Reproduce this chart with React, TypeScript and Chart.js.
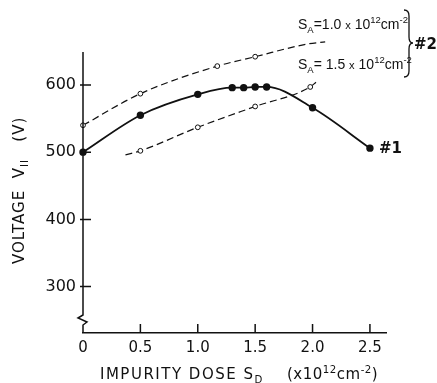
import React, { useEffect, useRef } from "react";
import { Chart, registerables } from "chart.js";

Chart.register(...registerables);

// ---- data ----
const xTicks = [0, 0.5, 1.0, 1.5, 2.0, 2.5];
const yTicks = [300, 400, 500, 600];

const doseN1 = [0, 0.5, 1.0, 1.3, 1.4, 1.5, 1.6, 2.0, 2.5];
const voltN1 = [500, 555, 586, 596, 596, 597, 597, 566, 506];

const doseSA10 = [0, 0.5, 1.17, 1.5, 1.96, 2.11];
const voltSA10 = [540, 587, 628, 642, 661, 664];
const markSA10 = [true, true, true, true, true, false];

const doseSA15 = [0.37, 0.5, 1.0, 1.5, 1.98, 2.03];
const voltSA15 = [496, 502, 537, 568, 597, 604];
const markSA15 = [false, true, true, true, true, false];

type Seg = [string, "n" | "sub" | "sup" | "sm"];

const labelSA10: Seg[] = [["S", "n"], ["A", "sub"], ["=1.0 ", "n"], ["x", "sm"], [" 10", "n"], ["12", "sup"], ["cm", "n"], ["-2", "sup"]];
const labelSA15: Seg[] = [["S", "n"], ["A", "sub"], ["= 1.5 ", "n"], ["x", "sm"], [" 10", "n"], ["12", "sup"], ["cm", "n"], ["-2", "sup"]];
const xTitleA: Seg[] = [["IMPURITY DOSE S", "n"], ["D", "sub"]];
const xTitleB: Seg[] = [["(x10", "n"], ["12", "sup"], ["cm", "n"], ["-2", "sup"], [")", "n"]];
const yTitle: Seg[] = [["VOLTAGE  V", "n"], ["II", "sub"], ["   (V)", "n"]];
const group1 = "#1";
const group2 = "#2";

const INK = "#111";
const FAM = "'DejaVu Sans', 'Liberation Sans', sans-serif";
const FAM2 = "'Liberation Sans', 'DejaVu Sans', sans-serif";

function drawRich(ctx: CanvasRenderingContext2D, x: number, y: number, segs: Seg[], size: number, spacing = 0, weight = "normal", fam = FAM) {
  let cx = x;
  ctx.textBaseline = "alphabetic";
  ctx.textAlign = "left";
  for (const [t, k] of segs) {
    const s = k === "n" ? size : k === "sm" ? size * 0.8 : size * 0.68;
    const dy = k === "sub" ? size * 0.28 : k === "sup" ? -size * 0.42 : 0;
    ctx.font = `${weight} ${s}px ${fam}`;
    (ctx as any).letterSpacing = `${spacing}px`;
    ctx.fillText(t, cx, y + dy);
    cx += ctx.measureText(t).width;
  }
  (ctx as any).letterSpacing = "0px";
  return cx;
}

const decorPlugin = {
  id: "decor",
  afterDraw(chart: any) {
    const { ctx, chartArea, scales } = chart;
    const xs = scales.x;
    const ys = scales.y;
    const x0 = chartArea.left;
    const bottom = chartArea.bottom;
    ctx.save();
    ctx.strokeStyle = INK;
    ctx.fillStyle = INK;
    ctx.lineWidth = 1.5;
    // y axis with break
    ctx.beginPath();
    ctx.moveTo(x0, chartArea.top);
    ctx.lineTo(x0, 315);
    ctx.lineTo(x0 - 5, 318);
    ctx.lineTo(x0 + 4, 322);
    ctx.lineTo(x0, 325);
    ctx.lineTo(x0, bottom);
    ctx.stroke();
    // inward ticks
    ctx.beginPath();
    for (const v of yTicks) {
      const py = ys.getPixelForValue(v);
      ctx.moveTo(x0 - 3, py);
      ctx.lineTo(x0 + 8, py);
    }
    for (const v of xTicks) {
      if (v === 0) continue;
      const px = xs.getPixelForValue(v);
      ctx.moveTo(px, bottom);
      ctx.lineTo(px, bottom - 9);
    }
    ctx.stroke();

    // axis titles
    drawRich(ctx, 100, 379, xTitleA, 15, 1.5);
    drawRich(ctx, 287, 379, xTitleB, 15, 0.5);
    ctx.save();
    ctx.translate(24, 264);
    ctx.rotate(-Math.PI / 2);
    drawRich(ctx, 0, 0, yTitle, 15, 1);
    ctx.restore();

    // annotations
    drawRich(ctx, 298, 29, labelSA10, 14, 0, "normal", FAM2);
    drawRich(ctx, 298, 69, labelSA15, 14, 0, "normal", FAM2);

    // brace
    ctx.lineWidth = 1.3;
    ctx.beginPath();
    ctx.moveTo(404, 10);
    ctx.quadraticCurveTo(409, 10, 409, 16);
    ctx.lineTo(409, 37);
    ctx.quadraticCurveTo(409, 43, 413, 43);
    ctx.quadraticCurveTo(409, 43, 409, 49);
    ctx.lineTo(409, 71);
    ctx.quadraticCurveTo(409, 77, 404, 77);
    ctx.stroke();
    drawRich(ctx, 414, 49, [[group2, "n"]], 15, 0, "bold");
    drawRich(ctx, 379, 153, [[group1, "n"]], 15, 0, "bold");
    ctx.restore();
  },
};

export default function App() {
  const ref = useRef<HTMLCanvasElement>(null);
  useEffect(() => {
    if (!ref.current) return;
    const tickFont = { family: FAM, size: 15 };
    const chart = new Chart(ref.current, {
      type: "line",
      data: {
        datasets: [
          {
            label: "#1",
            data: doseN1.map((x, i) => ({ x, y: voltN1[i] })),
            borderColor: INK,
            borderWidth: 1.8,
            pointRadius: 2.8,
            pointBackgroundColor: INK,
            pointBorderColor: INK,
            cubicInterpolationMode: "monotone",
            clip: false,
          },
          {
            label: "SA=1.0",
            data: doseSA10.map((x, i) => ({ x, y: voltSA10[i] })),
            borderColor: INK,
            borderWidth: 1.2,
            borderDash: [7, 4],
            pointRadius: markSA10.map((m) => (m ? 2.4 : 0)),
            pointBackgroundColor: "#fff",
            pointBorderColor: INK,
            pointBorderWidth: 1,
            cubicInterpolationMode: "monotone",
            clip: false,
          },
          {
            label: "SA=1.5",
            data: doseSA15.map((x, i) => ({ x, y: voltSA15[i] })),
            borderColor: INK,
            borderWidth: 1.2,
            borderDash: [7, 4],
            pointRadius: markSA15.map((m) => (m ? 2.4 : 0)),
            pointBackgroundColor: "#fff",
            pointBorderColor: INK,
            pointBorderWidth: 1,
            cubicInterpolationMode: "monotone",
            clip: false,
          },
        ],
      },
      options: {
        animation: false,
        responsive: false,
        layout: { padding: { top: 52, right: 51, left: 0, bottom: 0 } },
        plugins: { legend: { display: false }, tooltip: { enabled: false } },
        scales: {
          x: {
            type: "linear",
            min: 0,
            max: 2.64,
            afterBuildTicks: (s: any) => {
              s.ticks = xTicks.map((v) => ({ value: v }));
            },
            afterFit: (s: any) => {
              s.height = 50;
            },
            grid: { display: false, drawTicks: false },
            border: { display: true, color: INK, width: 1.5 },
            ticks: {
              padding: 6,
              font: tickFont,
              color: INK,
              maxRotation: 0,
              autoSkip: false,
              callback: (v: any) => (Number(v) === 0 ? "0" : Number(v).toFixed(1)),
            },
          },
          y: {
            type: "linear",
            min: 231,
            max: 649,
            afterBuildTicks: (s: any) => {
              s.ticks = yTicks.map((v) => ({ value: v }));
            },
            afterFit: (s: any) => {
              s.width = 83;
            },
            grid: { display: false, drawTicks: false },
            border: { display: false },
            ticks: {
              padding: 7,
              font: { family: FAM, size: 16 },
              color: INK,
              callback: (v: any) => String(v),
            },
          },
        },
      },
      plugins: [decorPlugin],
    } as any);
    return () => chart.destroy();
  }, []);
  return (
    <div style={{ position: "fixed", left: 0, top: 0, width: 437, height: 383, background: "#fff" }}>
      <canvas ref={ref} width={437} height={383} />
    </div>
  );
}
